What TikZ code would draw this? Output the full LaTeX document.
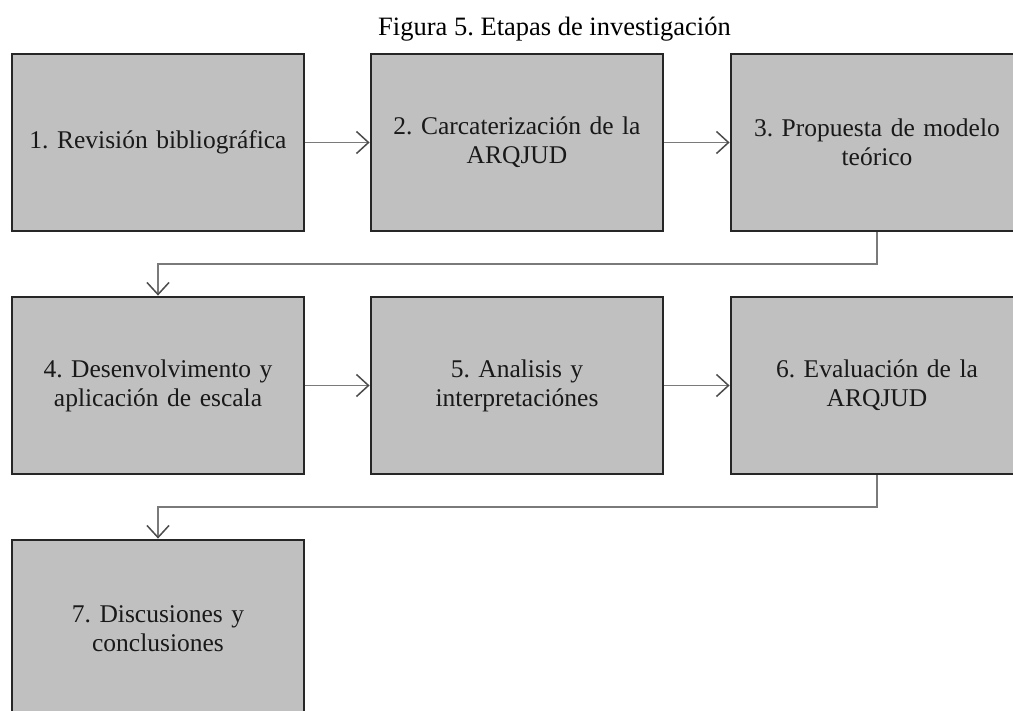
\documentclass[tikz,border=0pt]{standalone}
\usepackage{fontspec}
\setmainfont{Liberation Serif}
\frenchspacing
\usetikzlibrary{arrows.meta}
\definecolor{boxfill}{HTML}{C0C0C0}
\definecolor{boxline}{HTML}{262626}
\definecolor{conn}{HTML}{7A7A7A}
\tikzset{
  stage/.style={draw=boxline, line width=2.8pt, fill=boxfill, minimum width=292pt, minimum height=177pt,
    inner sep=0pt, align=center, text width=286pt, font=\fontsize{25.5}{29}\selectfont, text=black!90},
  flow/.style={draw=conn, line width=1.4pt, -{Straight Barb[length=12pt,width=22pt,line width=1.5pt,color=black!70]}},
}
\begin{document}
\begin{tikzpicture}[x=1pt,y=-1pt]
\useasboundingbox (0,0) rectangle (1013,711);
\clip (0,0) rectangle (1013,711);
\node[font=\fontsize{26.5}{30}\selectfont] (title) at (554.5,29) {Figura 5. Etapas de investigación};
\node[stage] (s1) at (158,142.5) {1. Revisión bibliográfica};
\node[stage] (s2) at (517,142.5) {2. Carcaterización de la\\ARQJUD};
\node[stage] (s3) at (877,142.5) {3. Propuesta de modelo\\teórico};
\node[stage] (s4) at (158,385.5) {4. Desenvolvimento y\\aplicación de escala};
\node[stage] (s5) at (517,385.5) {5. Analisis y\\interpretaciónes};
\node[stage] (s6) at (877,385.5) {6. Evaluación de la\\ARQJUD};
\node[stage] (s7) at (158,628.5) {7. Discusiones y\\conclusiones};
\coordinate (b1) at (877,264);
\coordinate (b2) at (877,507);
\draw[flow] (s1) -- (s2);
\draw[flow] (s2) -- (s3);
\draw[flow] (s4) -- (s5);
\draw[flow] (s5) -- (s6);
\draw[flow] (s3.south) -- (b1) -| (s4.north);
\draw[flow] (s6.south) -- (b2) -| (s7.north);
\end{tikzpicture}
\end{document}
